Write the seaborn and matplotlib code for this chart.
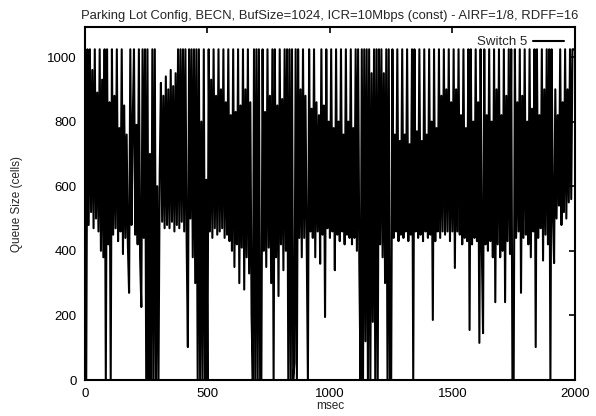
import numpy as np
import pandas as pd
import matplotlib
matplotlib.use("Agg")
import matplotlib.pyplot as plt
import seaborn as sns

# sample times (msec), one sample every 5 ms
msec = np.arange(0, 2000, 5)

# queue size at switch 5 (cells) (100 ms per row)
queue = [
    1024, 0, 1024, 480, 1024, 520, 960, 470, 1024, 500, 890, 460, 1024, 400, 930, 380, 1024, 0, 1024, 420,
    860, 0, 1024, 450, 880, 470, 1024, 430, 780, 460, 1024, 390, 850, 440, 760, 420, 270, 1024, 480, 800,
    1024, 450, 790, 420, 1024, 380, 226, 1024, 440, 1024, 0, 1024, 0, 700, 0, 1024, 0, 1024, 0, 600,
    0, 640, 920, 490, 880, 470, 940, 480, 900, 470, 960, 490, 910, 460, 950, 480, 1024, 470, 1024, 490,
    1024, 460, 1024, 430, 102, 1024, 500, 1024, 380, 1024, 300, 1024, 0, 1024, 0, 800, 0, 1024, 0, 620,
    0, 1024, 460, 930, 440, 1024, 470, 880, 450, 1024, 460, 900, 470, 1024, 440, 860, 450, 1024, 430, 820,
    400, 1024, 350, 830, 420, 1024, 300, 850, 410, 1024, 280, 900, 380, 1024, 330, 860, 200, 0, 1024, 0,
    1024, 0, 1024, 0, 0, 1024, 400, 830, 350, 1024, 410, 880, 300, 1024, 0, 1024, 380, 850, 260, 1024,
    420, 870, 340, 1024, 400, 1024, 0, 1024, 0, 1024, 0, 52, 1024, 0, 1024, 440, 900, 380, 1024, 440,
    880, 420, 0, 1024, 460, 840, 440, 1024, 380, 860, 460, 820, 360, 1024, 450, 850, 195, 1024, 470, 800,
    440, 1024, 460, 780, 340, 1024, 450, 800, 430, 1024, 460, 760, 420, 1024, 450, 800, 440, 1024, 420, 780,
    440, 1024, 400, 1024, 350, 0, 1024, 0, 1024, 120, 1024, 0, 1024, 0, 950, 180, 1024, 0, 1024, 0,
    1024, 420, 1024, 380, 950, 300, 1024, 0, 1024, 0, 0, 1024, 440, 760, 460, 1024, 430, 740, 450, 1024,
    440, 760, 460, 1024, 430, 730, 450, 1024, 0, 1024, 460, 770, 440, 1024, 450, 740, 430, 1024, 460, 760,
    440, 1024, 450, 800, 186, 1024, 430, 780, 460, 1024, 440, 880, 460, 1024, 450, 900, 460, 1024, 430, 860,
    460, 1024, 347, 900, 460, 1024, 450, 820, 420, 1024, 440, 780, 430, 1024, 155, 1024, 420, 800, 440, 1024,
    430, 860, 115, 1024, 410, 145, 1024, 420, 820, 400, 1024, 430, 800, 380, 1024, 241, 900, 420, 1024, 380,
    820, 400, 1024, 241, 880, 430, 1024, 390, 1024, 0, 0, 1024, 440, 860, 460, 1024, 270, 880, 440, 1024,
    450, 800, 420, 1024, 380, 840, 460, 1024, 102, 1024, 440, 820, 470, 1024, 370, 900, 450, 1024, 420, 1024,
    0, 1024, 520, 362, 900, 500, 820, 540, 1024, 480, 860, 520, 1024, 500, 900, 550, 1024, 560, 1024, 1024,
]

df = pd.DataFrame({"msec": msec, "Queue Size (cells)": queue})

sns.set_style("white")
plt.rcParams["font.family"] = ["Liberation Sans", "DejaVu Sans"]

fig = plt.figure(figsize=(5.96, 4.16), dpi=100)
ax = fig.add_axes([0.1426, 0.0865, 0.822, 0.8486])

sns.lineplot(data=df, x="msec", y="Queue Size (cells)", estimator=None,
             color="black", linewidth=1.5, label="Switch 5", ax=ax)

ax.set_xlim(0, 2000)
ax.set_ylim(0, 1093)
ax.set_xticks([0, 500, 1000, 1500, 2000])
ax.set_yticks([0, 200, 400, 600, 800, 1000])
ax.tick_params(direction="in", top=True, right=True, length=4, width=1.2,
               labelsize=9.5, colors="black", pad=6)
for s in ax.spines.values():
    s.set_color("black")
    s.set_linewidth(1.5)

ax.set_title("Parking Lot Config, BECN, BufSize=1024, ICR=10Mbps (const) - AIRF=1/8, RDFF=16",
             fontsize=9.4, pad=6)
ax.set_xlabel("msec", fontsize=8.5, labelpad=0)
ax.set_ylabel("Queue Size (cells)", fontsize=8.5, labelpad=17)

ax.legend(loc="upper right", bbox_to_anchor=(0.996, 1.0), frameon=False,
          markerfirst=False, handlelength=2.3, handletextpad=0.5,
          fontsize=9.5, borderaxespad=0.3)

fig.savefig("out.png", dpi=100)
